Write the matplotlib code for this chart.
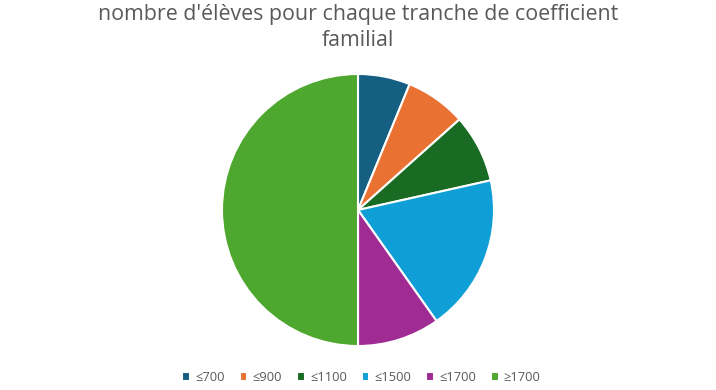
import matplotlib.pyplot as plt

# tranches de coefficient familial et nombre d'eleves
labels = ["≤700", "≤900", "≤1100", "≤1500", "≤1700", "≥1700"]
values = [6.2, 7.2, 8.1, 18.7, 9.8, 50.0]
colors = ["#156082", "#E97132", "#196B24", "#0F9ED5", "#A02B93", "#4EA72E"]

plt.rcParams['font.family'] = ['Open Sans', 'DejaVu Sans']

fig = plt.figure(figsize=(7.16, 3.9), dpi=100)

# pie centre (358, 210) px, radius 136 px
cx, cy, r = 358, 390 - 210, 136
ax = fig.add_axes([(cx - r) / 716, (cy - r) / 390, 2 * r / 716, 2 * r / 390])
wedges, _ = ax.pie(values, colors=colors, startangle=90, counterclock=False,
                   wedgeprops=dict(edgecolor="white", linewidth=1.5))
ax.set_xlim(-1, 1)
ax.set_ylim(-1, 1)
ax.set_aspect("equal")

fig.text(0.5, 0.99, "nombre d'élèves pour chaque tranche de coefficient\nfamilial",
         ha="center", va="top", fontsize=15.4, color="#595959", linespacing=1.32)

fig.legend(wedges, labels, loc="center", bbox_to_anchor=(0.505, 0.032), ncol=6,
           frameon=False, fontsize=9.3, labelcolor="#595959",
           handlelength=0.6, handleheight=0.6, handletextpad=0.4, columnspacing=1.15)

fig.savefig("out.png", dpi=100)
